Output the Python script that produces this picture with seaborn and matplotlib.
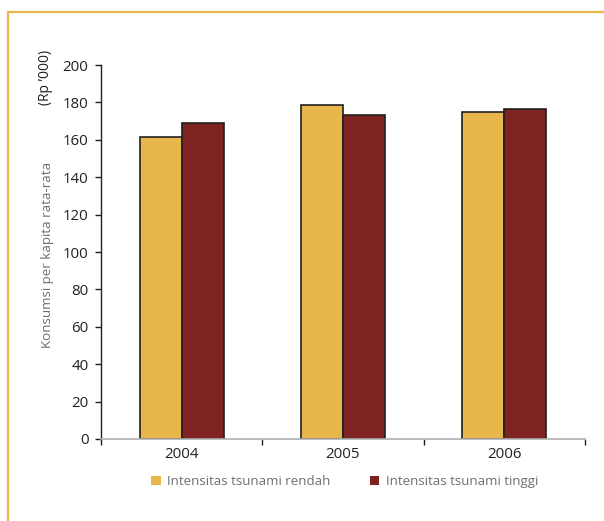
import pandas as pd
import matplotlib.pyplot as plt
import seaborn as sns
from matplotlib.lines import Line2D
from matplotlib.patches import Patch

# data
years = ["2004", "2005", "2006"]
rendah = [161.3, 178.5, 174.8]
tinggi = [168.9, 173.3, 176.7]
series_names = ["Intensitas tsunami rendah", "Intensitas tsunami tinggi"]
colors = ["#E8B64A", "#7F2322"]

df = pd.DataFrame({
    "Tahun": years * 2,
    "Nilai": rendah + tinggi,
    "Seri": [series_names[0]] * 3 + [series_names[1]] * 3,
})

sns.set_style("white")
plt.rcParams["font.family"] = ["Open Sans", "DejaVu Sans"]

fig = plt.figure(figsize=(6.04, 5.21), dpi=100)
ax = fig.add_axes([0.1672, 0.1574, 0.8013, 0.7178])

sns.barplot(data=df, x="Tahun", y="Nilai", hue="Seri", palette=colors,
            width=0.52, gap=0, edgecolor="#231f20", linewidth=1.2,
            saturation=1, ax=ax, legend=False)

ax.set_xlim(-0.5, 2.5)
ax.set_ylim(0, 200)
ax.set_yticks(range(0, 201, 20))
ax.set_xlabel("")
ax.set_ylabel("")

for s in ["top", "right"]:
    ax.spines[s].set_visible(False)
ax.spines["left"].set_color("#231f20")
ax.spines["left"].set_linewidth(1.0)
ax.spines["bottom"].set_color("#b0b0b0")
ax.spines["bottom"].set_linewidth(1.2)

ax.set_xticks([-0.5, 0.5, 1.5, 2.5], minor=True)
ax.tick_params(axis="x", which="major", length=0, pad=6,
               labelsize=10.8, labelcolor="#231f20")
ax.tick_params(axis="x", which="minor", length=4, width=1,
               color="#231f20", direction="out", bottom=True)
ax.tick_params(axis="y", length=4, width=1, color="#231f20",
               direction="out", left=True, labelsize=10.8,
               labelcolor="#231f20", pad=5)

# y axis label in two parts
fig.text(0.078, 0.511, "Konsumsi per kapita rata-rata", rotation=90,
         ha="center", va="center", fontsize=9.6, color="#6d6e71")
fig.text(0.075, 0.852, "(Rp \u2019000)", rotation=90,
         ha="center", va="center", fontsize=10, color="#231f20")

handles = [Patch(facecolor=c, edgecolor="none") for c in colors]
fig.legend(handles, series_names, loc="center", ncol=2,
           bbox_to_anchor=(0.571, 0.075), frameon=False, fontsize=9.5,
           labelcolor="#6d6e71", handlelength=0.7, handleheight=0.7,
           handletextpad=0.5, columnspacing=3.0)

# orange frame on left and top
fig.add_artist(Line2D([8 / 604, 8 / 604], [0, 1 - 12 / 521],
                      transform=fig.transFigure, color="#E8B64A", lw=1.6))
fig.add_artist(Line2D([8 / 604, 1], [1 - 12 / 521, 1 - 12 / 521],
                      transform=fig.transFigure, color="#E8B64A", lw=1.6))

fig.savefig("out.png", dpi=100)
